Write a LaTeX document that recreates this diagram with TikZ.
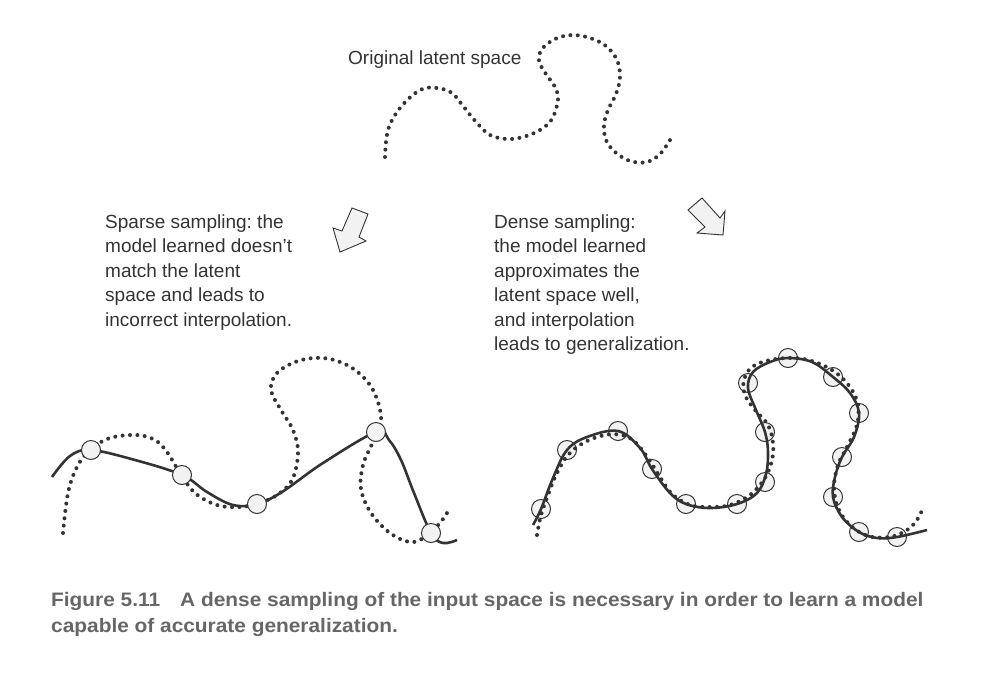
\documentclass[tikz,border=0pt]{standalone}
\usepackage{fontspec}
\setmainfont{Liberation Sans}
\newfontfamily\capfont[FakeStretch=1.07]{Liberation Sans}
\usetikzlibrary{arrows.meta}
\definecolor{ink}{gray}{0.2}
\definecolor{capgray}{gray}{0.4}
\frenchspacing
\tikzset{
  dotcurve/.style={draw=ink,line width=4pt,line cap=round,dash pattern=on 0pt off 7.4pt},
  fitcurve/.style={draw=ink,line width=2.6pt},
  sample/.style={circle,draw=ink,fill=black!5,line width=1pt,minimum size=19pt,inner sep=0pt},
  bigarrow/.style={draw=ink,fill=black!5,line width=0.9pt,line join=miter},
  label/.style={anchor=base west,align=left,inner sep=0pt,text=ink,font=\fontsize{19}{24.5}\selectfont}
}

\begin{document}
\begin{tikzpicture}[x=1pt,y=-1pt,>=Stealth]
\useasboundingbox (0,0) rectangle (981,678);
% original latent space
\node[label] (orig) at (348,64) {Original latent space};
\draw[dotcurve] plot[smooth,tension=0.6] coordinates {(385,157) (388,130) (400,108) (420,90) (437,88)
  (452,93) (463,106) (477,123) (490,135) (507,139) (523,137) (540,130) (552,119) (558,100)
  (555,87) (546,74) (539,61) (542,49) (555,39) (572,35) (590,38) (606,46) (617,60) (620,77)
  (616,94) (608,110) (604,125) (606,140) (615,152) (630,161) (647,162) (660,154) (670,140)};

% block arrows
\draw[bigarrow] (352,208) -- (368,214) -- (359,237) -- (366,241) -- (340,252) -- (333,228) -- (342,231) -- cycle;
\draw[bigarrow] (702,198) -- (720,218) -- (725,211) -- (723,235) -- (697,233) -- (705,227) -- (688,210) -- cycle;

% explanations (anchored on the last line)
\node[label] (sparse) at (105,326) {Sparse sampling: the\\model learned doesn't\\match the latent\\space and leads to\\incorrect interpolation.};
\node[label] (dense) at (494,350.5) {Dense sampling:\\the model learned\\approximates the\\latent space well,\\and interpolation\\leads to generalization.};

% sparse samples
\draw[dotcurve] plot[smooth,tension=0.6] coordinates {(63,533) (68,493) (77,467) (90,450) (110,438)
  (137,435) (155,440) (167,452) (180,473) (195,493) (217,505) (240,507) (260,503) (280,493)
  (293,478) (298,452) (293,430) (281,410) (271,390) (277,373) (298,361) (323,358) (347,365)
  (366,380) (377,399) (381,423) (372,444) (363,465) (361,489) (371,513) (390,533) (410,542)
  (425,537) (440,523) (450,508)};
\draw[fitcurve] plot[smooth,tension=0.6] coordinates {(52,477) (70,456) (91,450) (135,460)
  (182,475) (207,492) (233,505) (257,504) (282,492) (323,463) (376,432) (389,440) (401,460)
  (414,493) (431,533) (443,543) (457,540)};
\foreach \n/\p in {1/{(91,450)},2/{(182,475)},3/{(257,504)},4/{(376,432)},5/{(431,533)}}
  \node[sample] (s\n) at \p {};

% dense samples
\foreach \n/\p in {1/{(541,509)},2/{(567,450)},3/{(618,431)},4/{(652,469)},5/{(686,504)},
  6/{(737,504)},7/{(765,482)},8/{(765,432)},9/{(748,383)},10/{(788,358)},11/{(833,377)},
  12/{(859,413)},13/{(842,457)},14/{(833,497)},15/{(859,532)},16/{(897,537)}}
  \node[sample] (d\n) at \p {};
\draw[dotcurve] plot[smooth,tension=0.6] coordinates {(537,535) (541,515) (548,495) (556,475)
  (568,455) (585,442) (605,435) (622,435) (635,442) (648,458) (660,477) (672,494) (690,505)
  (710,507) (730,505) (750,495) (765,478) (772,460) (773,443) (768,425) (755,410) (745,395)
  (744,380) (752,367) (770,360) (795,358) (815,362) (835,372) (850,387) (858,405) (857,425)
  (848,445) (838,465) (834,487) (838,508) (850,525) (868,536) (890,537) (907,530) (917,520)
  (923,508)};
\draw[fitcurve] plot[smooth,tension=0.6] coordinates {(533,525) (d1.center) (553,478)
  (d2.center) (587,437) (d3.center) (640,448) (d4.center) (670,493) (d5.center) (710,508)
  (d6.center) (757,493) (766,474) (768,452) (d8.center) (756,410) (748,388) (753,372)
  (770,362) (d10.center) (812,362) (d11.center) (850,393) (d12.center) (854,437) (d13.center)
  (835,477) (d14.center) (842,517) (d15.center) (877,538) (d16.center) (927,530)};

% caption (anchored on the last line)
\node[anchor=base west,align=left,inner sep=0pt,text=capgray,
  font=\capfont\bfseries\fontsize{19.5}{26}\selectfont] (cap) at (51,632)
  {Figure 5.11\hspace{20pt}A dense sampling of the input space is necessary in order to learn a model\\capable of accurate generalization.};
\end{tikzpicture}
\end{document}
